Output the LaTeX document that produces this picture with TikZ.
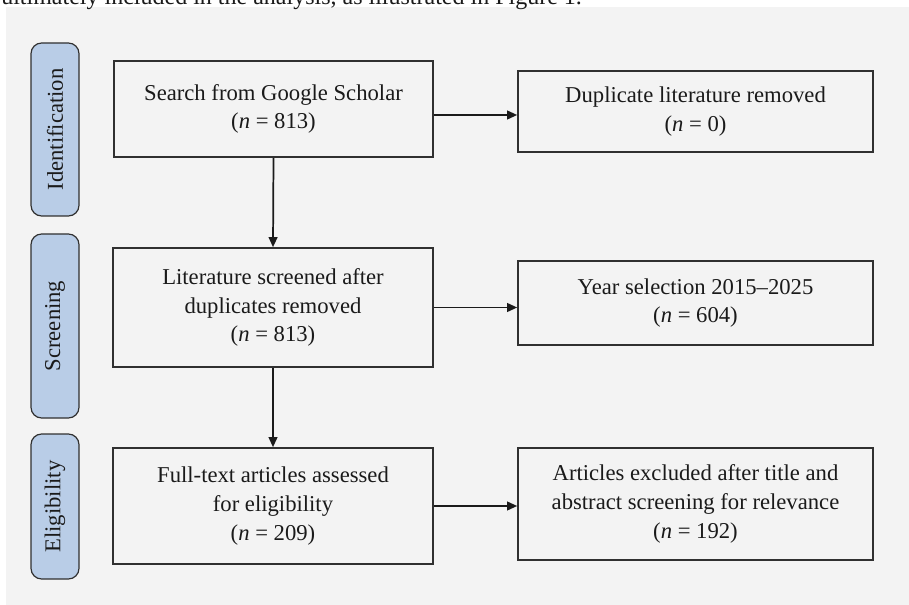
\documentclass[tikz,border=0pt]{standalone}
\usepackage{fontspec}
\setmainfont{Liberation Serif}
\usetikzlibrary{arrows.meta}
\definecolor{panel}{HTML}{F3F3F3}
\definecolor{pillblue}{HTML}{B9CDE7}
\definecolor{ink}{HTML}{1A1A1A}
\definecolor{edge}{HTML}{303030}
\tikzset{
  stagebox/.style={draw=edge, line width=1.2pt, fill=panel, text=ink, align=center,
    inner sep=0pt, font=\fontsize{17pt}{21.5pt}\selectfont},
  pill/.style={draw=edge, line width=0.9pt, fill=pillblue, rounded corners=8pt,
    inner sep=0pt, minimum width=36pt, text=ink},
  pilltext/.style={rotate=90, text=ink, font=\fontsize{17pt}{20pt}\selectfont},
  arr/.style={draw=ink, line width=1.3pt, -{Triangle[length=7.5pt,width=6.5pt]}},
}
\begin{document}
\begin{tikzpicture}[x=0.75pt,y=-0.75pt]
\useasboundingbox (0,0) rectangle (909,605);
\begin{scope}
\clip (0,0) rectangle (909,605);
\fill[white] (0,0) rectangle (909,605);
\fill[panel] (6,7) rectangle (909,605);
\node[anchor=base west, inner sep=0pt, text=ink, font=\fontsize{18pt}{20pt}\selectfont]
  (top) at (1,4.5) {ultimately included in the analysis, as illustrated in Figure 1.};
\end{scope}

% stage labels
\node[pill, minimum height={173*0.75pt}] (p1) at (55,129.5) {};
\node[pilltext] (l1) at (p1.center) {Identification};
\node[pill, minimum height={184*0.75pt}] (p2) at (55,326) {};
\node[pilltext] (l2) at (p2.center) {Screening};
\node[pill, minimum height={145*0.75pt}] (p3) at (55,506.5) {};
\node[pilltext] (l3) at (p3.center) {Eligibility};

% boxes
\node[stagebox, minimum width={319*0.75pt}, minimum height={96*0.75pt}] (b1) at (273.5,109)
  {Search from Google Scholar\\(\textit{n} = 813)};
\node[stagebox, minimum width={355*0.75pt}, minimum height={81*0.75pt}] (b2) at (695.5,111.5)
  {Duplicate literature removed\\(\textit{n} = 0)};
\node[stagebox, minimum width={320*0.75pt}, minimum height={119*0.75pt}] (b3) at (273,307.5)
  {Literature screened after\\duplicates removed\\(\textit{n} = 813)};
\node[stagebox, minimum width={355*0.75pt}, minimum height={84*0.75pt}] (b4) at (695.5,303)
  {Year selection 2015–2025\\(\textit{n} = 604)};
\node[stagebox, minimum width={320*0.75pt}, minimum height={116*0.75pt}] (b5) at (273,506)
  {Full-text articles assessed\\for eligibility\\(\textit{n} = 209)};
\node[stagebox, minimum width={355*0.75pt}, minimum height={112*0.75pt}] (b6) at (695.5,504)
  {Articles excluded after title and\\abstract screening for relevance\\(\textit{n} = 192)};

% connectors
\coordinate (a1) at ([yshift=-4.5pt]b1.east);
\draw[arr] (a1) -- (a1 -| b2.west);
\draw[arr] (b1.south) -- (b3.north);
\draw[arr] (b3.east) -- (b3.east -| b4.west);
\draw[arr] (b3.south) -- (b5.north);
\draw[arr] (b5.east) -- (b5.east -| b6.west);
\end{tikzpicture}
\end{document}
